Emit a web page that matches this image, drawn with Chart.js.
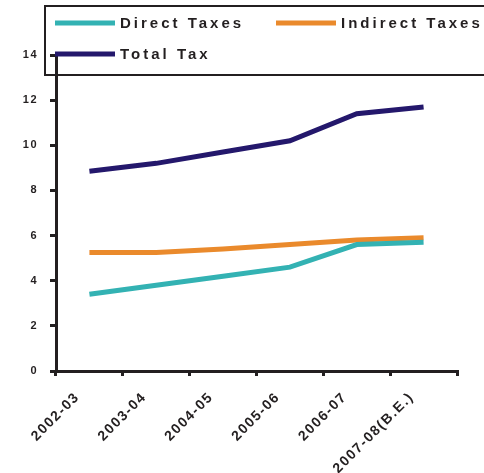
<!DOCTYPE html>
<html>
<head>
<meta charset="utf-8">
<script src="https://cdn.jsdelivr.net/npm/chart.js@4"></script>
<style>
html,body{margin:0;padding:0;background:#fff;}
#wrap{width:484px;height:473px;position:relative;}
</style>
</head>
<body>
<div id="wrap"><canvas id="c" width="484" height="473"></canvas></div>
<script>
const categories = ['2002-03','2003-04','2004-05','2005-06','2006-07','2007-08(B.E.)'];
const directTaxes = [3.4, 3.8, 4.2, 4.6, 5.6, 5.7];
const indirectTaxes = [5.25, 5.25, 5.4, 5.6, 5.8, 5.9];
const totalTax = [8.85, 9.2, 9.7, 10.2, 11.4, 11.7];
const yTicks = [0, 2, 4, 6, 8, 10, 12, 14];

const INK = '#231f20';
const FONT = '"Liberation Sans", Arial, sans-serif';

const spacingPlugin = {
  id: 'spacing',
  beforeLayout(chart){ chart.ctx.letterSpacing = '1.5px'; },
  beforeDraw(chart){ chart.ctx.letterSpacing = '1.5px'; }
};

const boxLegend = {
  id: 'boxLegend',
  afterDraw(chart){
    const ctx = chart.ctx;
    ctx.save();
    ctx.strokeStyle = INK;
    ctx.lineWidth = 2;
    ctx.strokeRect(45, 6, 520, 69);
    const slots = [[55, 23], [276, 23], [55, 54]];
    ctx.font = 'bold 15px ' + FONT;
    ctx.letterSpacing = '3px';
    ctx.textBaseline = 'middle';
    ctx.textAlign = 'left';
    chart.data.datasets.forEach((ds, i) => {
      const [x, y] = slots[i];
      ctx.strokeStyle = ds.borderColor;
      ctx.lineWidth = 5;
      ctx.beginPath();
      ctx.moveTo(x, y);
      ctx.lineTo(x + 60, y);
      ctx.stroke();
      ctx.fillStyle = INK;
      ctx.fillText(ds.label, x + 65, y + 1);
    });
    ctx.restore();
  }
};

new Chart(document.getElementById('c'), {
  type: 'line',
  data: {
    labels: categories,
    datasets: [
      { label: 'Direct Taxes', data: directTaxes, borderColor: '#33b2b3', backgroundColor: '#33b2b3' },
      { label: 'Indirect Taxes', data: indirectTaxes, borderColor: '#ea8a2c', backgroundColor: '#ea8a2c' },
      { label: 'Total Tax', data: totalTax, borderColor: '#24186c', backgroundColor: '#24186c' }
    ]
  },
  options: {
    responsive: false,
    animation: false,
    devicePixelRatio: 1,
    layout: { padding: { top: 55, right: 27, left: 0, bottom: 0 } },
    elements: {
      line: { borderWidth: 5, tension: 0, borderCapStyle: 'butt', borderJoinStyle: 'miter' },
      point: { radius: 0, hoverRadius: 0 }
    },
    plugins: {
      legend: { display: false },
      tooltip: { enabled: false }
    },
    scales: {
      x: {
        offset: true,
        grid: { display: true, drawOnChartArea: false, offset: true, color: INK, lineWidth: 3, tickLength: 5 },
        border: { display: true, color: INK, width: 3 },
        ticks: {
          color: INK,
          font: { family: FONT, size: 14, weight: 'bold' },
          minRotation: 45, maxRotation: 45,
          autoSkip: false,
          padding: 13,
          labelOffset: -12
        },
        afterFit(s){ s.height = 473 - 371; }
      },
      y: {
        min: 0, max: 14,
        afterBuildTicks(s){ s.ticks = yTicks.map(v => ({ value: v })); },
        grid: { display: true, drawOnChartArea: false, color: INK, lineWidth: 3, tickLength: 6 },
        border: { display: true, color: INK, width: 3 },
        ticks: {
          color: INK,
          font: { family: FONT, size: 11, weight: 'bold' },
          padding: 12
        },
        afterFit(s){ s.width = 56; }
      }
    }
  },
  plugins: [spacingPlugin, boxLegend]
});
</script>
</body>
</html>
